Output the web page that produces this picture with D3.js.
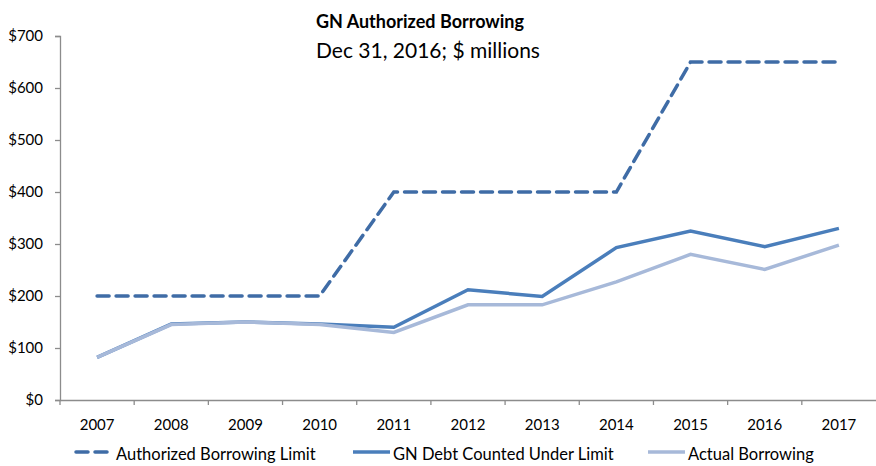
<!DOCTYPE html>
<html>
<head>
<meta charset="utf-8">
<script src="https://cdn.jsdelivr.net/npm/d3@7"></script>
<style>
  body { margin: 0; background: #fff; }
  text { font-family: Lato, "Open Sans", sans-serif; fill: #000; }
</style>
</head>
<body>
<div id="chart"></div>
<script>
const years = [2007, 2008, 2009, 2010, 2011, 2012, 2013, 2014, 2015, 2016, 2017];
const authorizedLimit = [200, 200, 200, 200, 400, 400, 400, 400, 650, 650, 650];
const gnDebt = [82, 146, 150, 146, 140, 212, 199, 293, 325, 295, 330];
const actualBorrowing = [82, 145, 150, 145, 130, 183, 183, 227, 280, 251, 298];
const yTicks = [0, 100, 200, 300, 400, 500, 600, 700];

const W = 876, H = 466;
const margin = { top: 36, right: 0, bottom: 66, left: 60 };
const width = W - margin.left - margin.right;
const height = H - margin.top - margin.bottom;

const svg = d3.select("#chart").append("svg")
    .attr("width", W)
    .attr("height", H);

const g = svg.append("g")
    .attr("transform", `translate(${margin.left},${margin.top})`);

const x = d3.scaleBand()
    .domain(years)
    .range([0, width]);

const y = d3.scaleLinear()
    .domain([0, 700])
    .range([height, 0]);

// axes
const yAxis = g.append("g")
    .call(d3.axisLeft(y).tickValues(yTicks).tickSize(5).tickPadding(12).tickFormat(d => "$" + d));
yAxis.selectAll("text").style("font-size", "15px");

const xAxis = g.append("g")
    .attr("transform", `translate(0,${height})`)
    .call(d3.axisBottom(x).tickSize(0).tickPadding(19));
xAxis.selectAll("text").style("font-size", "15px");
// tick marks between categories
xAxis.selectAll(".sep")
    .data(years)
    .enter().append("line")
    .attr("class", "sep")
    .attr("x1", d => x(d))
    .attr("x2", d => x(d))
    .attr("y1", 0)
    .attr("y2", 5);

svg.selectAll(".domain, .tick line, .sep")
    .attr("stroke", "#8c8c8c")
    .attr("stroke-width", 1.3);

const line = d3.line()
    .x((d, i) => x(years[i]) + x.bandwidth() / 2)
    .y(d => y(d));

g.append("path")
    .datum(authorizedLimit)
    .attr("fill", "none")
    .attr("stroke", "#3f6ca6")
    .attr("stroke-width", 3.5)
    .attr("stroke-dasharray", "12,7")
    .attr("stroke-linecap", "round")
    .attr("d", line);

g.append("path")
    .datum(gnDebt)
    .attr("fill", "none")
    .attr("stroke", "#4a7ebb")
    .attr("stroke-width", 3.5)
    .attr("d", line);

g.append("path")
    .datum(actualBorrowing)
    .attr("fill", "none")
    .attr("stroke", "#a7b9d9")
    .attr("stroke-width", 3.5)
    .attr("d", line);

// titles
svg.append("text")
    .attr("x", 420)
    .attr("y", 28)
    .attr("text-anchor", "middle")
    .style("font-size", "18px")
    .style("font-weight", "bold")
    .text("GN Authorized Borrowing");

svg.append("text")
    .attr("x", 428)
    .attr("y", 58)
    .attr("text-anchor", "middle")
    .style("font-size", "21px")
    .text("Dec 31, 2016; $ millions");

// legend
const legend = [
    { name: "Authorized Borrowing Limit", color: "#3f6ca6", dash: "12,7", x: 76 },
    { name: "GN Debt Counted Under Limit", color: "#4a7ebb", dash: null, x: 353 },
    { name: "Actual Borrowing", color: "#a7b9d9", dash: null, x: 648 }
];

const lg = svg.selectAll(".legend")
    .data(legend)
    .enter().append("g")
    .attr("class", "legend")
    .attr("transform", d => `translate(${d.x},452)`);

lg.append("line")
    .attr("x1", 0)
    .attr("x2", 37)
    .attr("stroke", d => d.color)
    .attr("stroke-width", 3.5)
    .attr("stroke-dasharray", d => d.dash)
    .attr("stroke-linecap", d => d.dash ? "round" : "butt");

lg.append("text")
    .attr("x", 40)
    .attr("y", 8)
    .style("font-size", "16.5px")
    .text(d => d.name);
</script>
</body>
</html>
